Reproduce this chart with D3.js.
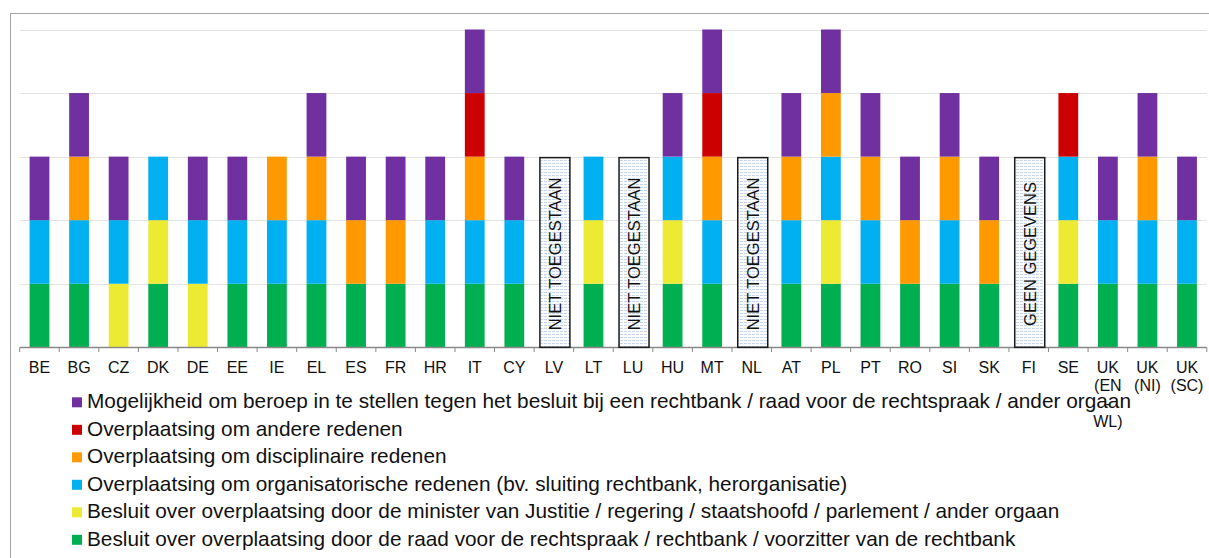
<!DOCTYPE html>
<html>
<head>
<meta charset="utf-8">
<script src="https://cdn.jsdelivr.net/npm/d3@7"></script>
<style>
  body { margin: 0; background: #fff; }
  text { font-family: Arial, "Liberation Sans", sans-serif; }
</style>
</head>
<body>
<div id="chart"></div>
<script>
// Stacked bars: judicial transfer safeguards per member state (0/1 per category)

const width = 1209, height = 558;

const countries = ["BE","BG","CZ","DK","DE","EE","IE","EL","ES","FR","HR","IT","CY","LV","LT",
    "LU","HU","MT","NL","AT","PL","PT","RO","SI","SK","FI","SE","UK-EN","UK-NI","UK-SC"];
const countryLabels = [["BE"],["BG"],["CZ"],["DK"],["DE"],["EE"],["IE"],["EL"],["ES"],["FR"],["HR"],
    ["IT"],["CY"],["LV"],["LT"],["LU"],["HU"],["MT"],["NL"],["AT"],["PL"],["PT"],["RO"],["SI"],["SK"],
    ["FI"],["SE"],["UK","(EN","-","WL)"],["UK","(NI)"],["UK","(SC)"]];

// series, bottom to top of the stack
const seriesKeys = ["raad","minister","organisatorisch","disciplinair","andere","beroep"];
const seriesNames = [
    "Besluit over overplaatsing door de raad voor de rechtspraak / rechtbank / voorzitter van de rechtbank",
    "Besluit over overplaatsing door de minister van Justitie / regering / staatshoofd / parlement / ander orgaan",
    "Overplaatsing om organisatorische redenen (bv. sluiting rechtbank, herorganisatie)",
    "Overplaatsing om disciplinaire redenen",
    "Overplaatsing om andere redenen",
    "Mogelijkheid om beroep in te stellen tegen het besluit bij een rechtbank / raad voor de rechtspraak / ander orgaan"
];
const seriesColors = ["#00AF50","#EDEA33","#00B0F0","#FF9900","#CC0000","#7030A0"];

const raad =            [1,1,0,1,0,1,1,1,1,1,1,1,1,0,1,0,1,1,0,1,1,1,1,1,1,0,1,1,1,1];
const minister =        [0,0,1,1,1,0,0,0,0,0,0,0,0,0,1,0,1,0,0,0,1,0,0,0,0,0,1,0,0,0];
const organisatorisch = [1,1,1,1,1,1,1,1,0,0,1,1,1,0,1,0,1,1,0,1,1,1,0,1,0,0,1,1,1,1];
const disciplinair =    [0,1,0,0,0,0,1,1,1,1,0,1,0,0,0,0,0,1,0,1,1,1,1,1,1,0,0,0,1,0];
const andere =          [0,0,0,0,0,0,0,0,0,0,0,1,0,0,0,0,0,1,0,0,0,0,0,0,0,0,1,0,0,0];
const beroep =          [1,1,1,0,1,1,0,1,1,1,1,1,1,0,0,0,1,1,0,1,1,1,1,1,1,0,0,1,1,1];

const noteCountries = ["LV","LU","NL","FI"];
const noteTexts = ["NIET TOEGESTAAN","NIET TOEGESTAAN","NIET TOEGESTAAN","GEEN GEGEVENS"];

const yTicks = [0,1,2,3,4,5];

// table for d3.stack
const seriesValues = [raad, minister, organisatorisch, disciplinair, andere, beroep];
const table = countries.map((c, i) => {
    const row = { country: c };
    seriesKeys.forEach((k, j) => { row[k] = seriesValues[j][i]; });
    return row;
});

const svg = d3.select("#chart")
    .append("svg")
    .attr("width", width)
    .attr("height", height);

// pattern for the note boxes
const defs = svg.append("defs");
const pat = defs.append("pattern")
    .attr("id", "dots")
    .attr("width", 4)
    .attr("height", 3)
    .attr("patternUnits", "userSpaceOnUse");
pat.append("rect").attr("width", 4).attr("height", 3).attr("fill", "#fbfcfe");
pat.append("rect").attr("x", 0).attr("y", 1).attr("width", 3).attr("height", 1).attr("fill", "#c9d6ea");

// outer frame
svg.append("rect")
    .attr("x", 10.5)
    .attr("y", 13.5)
    .attr("width", 1210)
    .attr("height", 560)
    .attr("fill", "none")
    .attr("stroke", "#a6a6a6")
    .attr("stroke-width", 1);

const x = d3.scaleBand()
    .domain(countries)
    .range([19.7, 1206.8])
    .paddingInner(0.5)
    .paddingOuter(0.25);

const y = d3.scaleLinear()
    .domain([0, 5])
    .range([347.3, 29.5]);

// gridlines
svg.append("g")
    .selectAll("line")
    .data(yTicks.slice(1))
    .enter()
    .append("line")
    .attr("x1", 19.7)
    .attr("x2", 1206.8)
    .attr("y1", d => Math.round(y(d)) + 0.5)
    .attr("y2", d => Math.round(y(d)) + 0.5)
    .attr("stroke", "#e3e3e3")
    .attr("stroke-width", 1.2);

// stacked bars
const stacked = d3.stack().keys(seriesKeys)(table);

svg.append("g")
    .selectAll("g")
    .data(stacked)
    .enter()
    .append("g")
    .attr("fill", (d, i) => seriesColors[i])
    .selectAll("rect")
    .data(d => d.filter(s => s[1] > s[0]))
    .enter()
    .append("rect")
    .attr("x", d => x(d.data.country))
    .attr("y", d => y(d[1]))
    .attr("width", x.bandwidth())
    .attr("height", d => y(d[0]) - y(d[1]));

// x axis: baseline and ticks at category boundaries
const step = x.step();
const boundaries = countries.map(c => x(c) - step * x.paddingInner() / 2)
    .concat([x(countries[countries.length - 1]) + x.bandwidth() + step * x.paddingInner() / 2]);

const axis = svg.append("g");
axis.append("line")
    .attr("x1", 19.7)
    .attr("x2", 1206.8)
    .attr("y1", 347.5)
    .attr("y2", 347.5)
    .attr("stroke", "#898989")
    .attr("stroke-width", 1.5);
axis.selectAll("line.tick")
    .data(boundaries)
    .enter()
    .append("line")
    .attr("class", "tick")
    .attr("x1", d => d)
    .attr("x2", d => d)
    .attr("y1", 347.5)
    .attr("y2", 352)
    .attr("stroke", "#898989")
    .attr("stroke-width", 1);

// category labels
countries.forEach((c, i) => {
    const t = axis.append("text")
        .attr("x", x(c) + x.bandwidth() / 2)
        .attr("y", 373.3)
        .attr("text-anchor", "middle")
        .style("font-size", "16px")
        .attr("fill", "#111");
    countryLabels[i].forEach((line, j) => {
        t.append("tspan")
            .attr("x", x(c) + x.bandwidth() / 2)
            .attr("dy", j === 0 ? 0 : 17.8)
            .text(line);
    });
});

// note boxes for countries without data
noteCountries.forEach((c, i) => {
    const cx = x(c) + x.bandwidth() / 2 + 1;
    const g = svg.append("g");
    g.append("rect")
        .attr("x", cx - 15)
        .attr("y", y(3) + 1)
        .attr("width", 30)
        .attr("height", y(0) - y(3) - 1)
        .attr("fill", "url(#dots)")
        .attr("stroke", "#1a1a1a")
        .attr("stroke-width", 1.5);
    g.append("text")
        .attr("transform", `translate(${cx + 6}, ${(y(3) + y(0)) / 2 + 2}) rotate(-90)`)
        .attr("text-anchor", "middle")
        .style("font-size", "16.5px")
        .attr("fill", "#111")
        .text(noteTexts[i]);
});

// legend (top of stack first)
const legend = svg.append("g")
    .attr("transform", "translate(72, 0)");

seriesKeys.slice().reverse().forEach((k, i) => {
    const idx = seriesKeys.length - 1 - i;
    const baseY = 408.3 + i * 27.5;
    legend.append("rect")
        .attr("x", 0)
        .attr("y", baseY - 11)
        .attr("width", 10)
        .attr("height", 10)
        .attr("fill", seriesColors[idx]);
    legend.append("text")
        .attr("x", 15)
        .attr("y", baseY)
        .style("font-size", "20.8px")
        .attr("fill", "#111")
        .text(seriesNames[idx]);
});
</script>
</body>
</html>
